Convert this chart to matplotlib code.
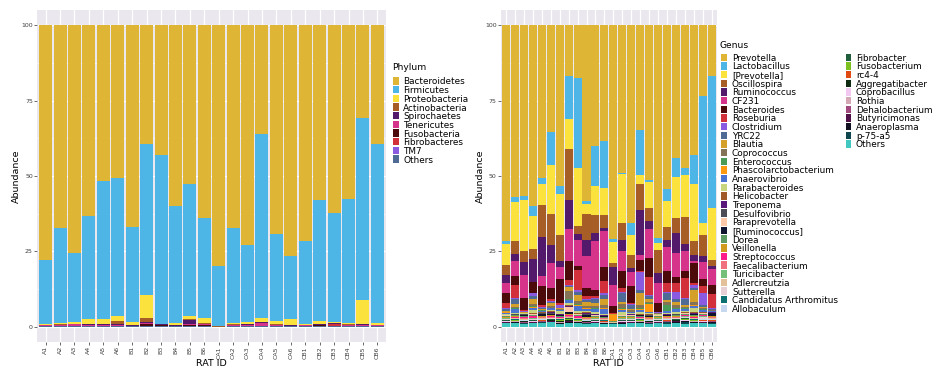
import matplotlib
matplotlib.use("Agg")
import matplotlib.pyplot as plt
from matplotlib.patches import Rectangle

rat_ids = ["A1", "A2", "A3", "A4", "A5", "A6", "B1", "B2", "B3", "B4", "B5", "B6",
           "CA1", "CA2", "CA3", "CA4", "CA5", "CA6", "CB1", "CB2", "CB3", "CB4", "CB5", "CB6"]

# ---- phylum level (percent) ----
bacteroidetes = [77.8, 67.3, 75.6, 63.1, 51.6, 50.7, 66.9, 39.4, 43.1, 59.8, 52.6, 64.0,
                 79.7, 67.1, 72.8, 36.1, 69.1, 76.5, 71.4, 58.0, 62.1, 57.6, 30.8, 39.4]
firmicutes = [21.1, 31.4, 22.7, 34.4, 45.9, 45.6, 31.5, 50.0, 55.8, 39.0, 43.9, 33.2,
              20.0, 31.7, 25.5, 60.8, 29.1, 21.0, 27.5, 39.9, 36.2, 41.0, 60.2, 59.2]
proteobacteria = [0.4, 0.5, 0.7, 1.5, 1.5, 1.9, 1.0, 7.5, 0.2, 0.5, 0.8, 1.6,
                  0.1, 0.4, 0.8, 1.5, 1.0, 1.9, 0.4, 1.1, 0.4, 0.6, 8.0, 0.7]
actinobacteria = [0.1, 0.1, 0.1, 0.2, 0.2, 1.0, 0.1, 1.5, 0.1, 0.1, 0.3, 0.2,
                  0.1, 0.1, 0.1, 0.1, 0.2, 0.1, 0.1, 0.1, 0.1, 0.2, 0.1, 0.1]
spirochaetes = [0.1, 0.2, 0.1, 0.1, 0.2, 0.1, 0.1, 0.2, 0.2, 0.2, 1.6, 0.2,
                0.0, 0.2, 0.1, 0.1, 0.1, 0.1, 0.1, 0.2, 0.1, 0.1, 0.2, 0.1]
tenericutes = [0.2, 0.2, 0.4, 0.4, 0.2, 0.4, 0.1, 0.4, 0.1, 0.1, 0.2, 0.1,
               0.0, 0.1, 0.3, 1.0, 0.2, 0.1, 0.2, 0.2, 0.1, 0.2, 0.3, 0.2]
fusobacteria = [0.1, 0.1, 0.1, 0.1, 0.2, 0.1, 0.1, 0.7, 0.3, 0.1, 0.3, 0.5,
                0.0, 0.2, 0.1, 0.1, 0.1, 0.1, 0.1, 0.3, 0.2, 0.1, 0.2, 0.1]
fibrobacteres = [0.0, 0.0, 0.1, 0.0, 0.0, 0.0, 0.0, 0.1, 0.0, 0.0, 0.0, 0.0,
                 0.0, 0.0, 0.1, 0.1, 0.0, 0.0, 0.0, 0.0, 0.6, 0.0, 0.0, 0.0]
tm7 = [0.0, 0.0, 0.0, 0.0, 0.0, 0.0, 0.0, 0.0, 0.0, 0.0, 0.1, 0.0,
       0.0, 0.0, 0.0, 0.0, 0.0, 0.0, 0.0, 0.0, 0.0, 0.0, 0.0, 0.0]
phylum_others = [0.2, 0.2, 0.2, 0.2, 0.2, 0.2, 0.2, 0.2, 0.2, 0.2, 0.2, 0.2,
                 0.1, 0.2, 0.2, 0.2, 0.2, 0.2, 0.2, 0.2, 0.2, 0.2, 0.2, 0.2]

phylum_names = ["Bacteroidetes", "Firmicutes", "Proteobacteria", "Actinobacteria", "Spirochaetes",
                "Tenericutes", "Fusobacteria", "Fibrobacteres", "TM7", "Others"]
phylum_values = [bacteroidetes, firmicutes, proteobacteria, actinobacteria, spirochaetes,
                 tenericutes, fusobacteria, fibrobacteres, tm7, phylum_others]
phylum_colors = ["#DEB535", "#4DB6E6", "#FCE23C", "#A65E26", "#531A6B",
                 "#D6338A", "#4D0A0A", "#D2303A", "#8A5AE0", "#4E6A95"]

# ---- genus level (percent) ----
prevotella = [71.7, 56.9, 56.5, 59.8, 50.6, 35.3, 53.4, 17.0, 17.5, 58.4, 40.1, 38.4,
              70.9, 48.9, 65.6, 34.8, 51.2, 70.5, 54.3, 44.0, 47.3, 42.9, 23.5, 17.0]
lactobacillus = [0.8, 1.7, 1.6, 3.5, 2.2, 11.2, 2.4, 14.0, 29.8, 0.8, 13.1, 15.5,
                 0.8, 0.6, 3.8, 15.0, 0.9, 1.7, 4.1, 6.3, 2.4, 9.9, 42.1, 43.6]
prevotella_br = [7.1, 13.1, 16.9, 10.8, 6.7, 16.0, 13.9, 10.2, 19.4, 3.3, 9.6, 8.9,
                 6.9, 16.1, 6.9, 2.7, 8.5, 2.2, 8.5, 13.7, 14.0, 18.9, 4.1, 17.1]
oscillospira = [3.1, 4.1, 3.6, 3.3, 10.8, 10.5, 8.4, 16.6, 2.5, 8.6, 6.1, 4.4,
                1.6, 5.5, 4.2, 8.6, 4.4, 7.8, 4.2, 5.0, 8.8, 4.6, 6.9, 2.0]
ruminococcus = [2.8, 2.2, 4.1, 7.6, 12.8, 5.8, 1.9, 9.8, 1.9, 5.5, 2.8, 1.1,
                5.9, 3.9, 1.4, 15.0, 2.6, 3.4, 2.5, 6.6, 2.3, 2.0, 1.9, 1.1]
cf231 = [3.3, 5.1, 7.8, 0.2, 3.5, 8.4, 4.2, 10.5, 8.6, 10.6, 16.0, 11.7,
         6.9, 6.6, 4.7, 1.6, 9.6, 6.6, 8.0, 7.8, 6.8, 0.5, 5.7, 5.2]
bacteroides = [3.3, 3.0, 3.9, 3.4, 6.1, 3.6, 7.9, 6.3, 1.4, 2.7, 2.0, 4.9,
               2.2, 5.6, 5.5, 3.7, 6.1, 2.7, 3.9, 2.2, 2.2, 6.7, 2.4, 3.0]
roseburia = [1.7, 4.4, 0.4, 0.3, 0.8, 0.6, 0.5, 1.6, 6.6, 0.7, 0.6, 3.9,
             0.3, 1.1, 0.3, 0.3, 6.1, 0.3, 2.8, 2.8, 6.7, 0.5, 2.2, 4.8]
clostridium = [0.2, 0.3, 0.1, 0.8, 0.2, 0.3, 1.0, 0.3, 0.6, 0.4, 0.5, 0.6,
               0.0, 0.3, 0.2, 6.1, 0.4, 0.1, 0.4, 2.5, 0.4, 1.0, 4.0, 0.2]
yrc22 = [0.6, 1.5, 0.2, 1.0, 0.3, 0.5, 0.2, 0.4, 1.2, 0.8, 1.2, 1.3,
         0.1, 3.0, 1.5, 0.8, 0.8, 0.1, 2.5, 1.0, 2.0, 0.8, 0.5, 0.3]
blautia = [0.3, 1.0, 0.2, 1.6, 0.3, 0.8, 0.3, 1.5, 2.0, 1.2, 1.0, 2.0,
           0.2, 0.8, 0.4, 4.0, 1.0, 0.1, 0.6, 1.0, 0.5, 4.0, 0.5, 0.2]
coprococcus = [0.2, 0.5, 0.1, 0.8, 0.2, 0.6, 0.2, 2.5, 1.0, 0.7, 0.8, 0.9,
               0.0, 1.5, 0.4, 1.0, 0.6, 0.1, 0.8, 0.8, 0.5, 0.8, 0.3, 0.1]
enterococcus = [0.1, 0.2, 0.0, 0.3, 0.1, 0.2, 0.1, 0.3, 0.3, 0.2, 0.2, 0.3,
                0.0, 0.3, 0.2, 0.5, 0.2, 0.1, 2.0, 0.3, 0.2, 0.3, 0.2, 0.1]
phascolarctobacterium = [0.1, 0.1, 0.0, 0.2, 0.1, 0.1, 0.1, 0.2, 0.2, 0.1, 0.2, 0.2,
                         2.0, 0.2, 0.1, 0.3, 2.5, 0.0, 0.2, 0.2, 0.1, 0.2, 0.1, 0.1]
anaerovibrio = [0.5, 1.2, 0.1, 0.9, 0.2, 0.5, 0.2, 0.8, 1.8, 0.8, 1.0, 1.5,
                0.0, 0.8, 0.3, 0.8, 0.5, 0.1, 0.5, 0.8, 0.6, 0.6, 0.5, 0.2]
parabacteroides = [0.1, 0.3, 0.1, 1.0, 0.1, 0.4, 0.9, 0.9, 0.7, 0.4, 0.5, 0.5,
                   0.0, 0.7, 0.2, 0.6, 0.4, 0.1, 0.4, 0.6, 0.4, 1.5, 0.3, 0.1]
helicobacter = [0.1, 0.1, 0.1, 0.1, 0.3, 0.4, 0.1, 0.3, 0.1, 0.1, 0.1, 0.1,
                0.1, 0.1, 0.1, 0.1, 0.3, 0.1, 0.1, 0.1, 0.1, 0.3, 0.1, 0.1]
treponema = [0.1, 0.1, 0.1, 0.1, 0.1, 0.1, 0.3, 0.1, 0.1, 0.3, 0.1, 0.1,
             0.0, 0.1, 0.1, 0.1, 0.1, 0.1, 0.1, 0.1, 0.1, 0.1, 0.1, 0.1]
desulfovibrio = [0.1, 0.1, 0.1, 0.1, 0.3, 0.3, 0.1, 0.1, 0.1, 0.3, 0.3, 0.1,
                 0.1, 0.1, 0.3, 0.1, 0.1, 0.1, 0.1, 0.1, 0.1, 0.1, 0.1, 0.1]
paraprevotella = [0.1, 0.1, 0.3, 0.1, 0.1, 0.1, 0.1, 1.5, 0.1, 0.1, 0.1, 0.1,
                  0.0, 0.1, 0.1, 0.1, 0.1, 0.1, 0.1, 0.1, 0.1, 0.1, 0.1, 0.1]
ruminococcus_br = [0.2, 0.2, 0.2, 0.2, 0.5, 0.2, 0.2, 0.7, 0.2, 0.6, 0.2, 0.2,
                   0.1, 0.2, 0.2, 0.2, 0.2, 0.2, 0.2, 0.2, 0.2, 0.4, 0.2, 0.8]
dorea = [0.2, 0.2, 0.2, 0.2, 0.2, 0.2, 0.2, 0.2, 0.2, 0.2, 0.2, 0.2,
         0.1, 0.2, 0.2, 0.2, 0.2, 0.2, 0.2, 0.2, 0.2, 0.2, 0.2, 0.2]
veillonella = [0.2, 0.4, 0.2, 0.2, 0.2, 0.2, 0.2, 0.2, 0.2, 0.2, 0.2, 0.2,
               0.1, 0.2, 0.2, 0.2, 0.2, 0.2, 0.2, 0.2, 0.2, 0.2, 0.2, 0.2]
streptococcus = [0.1, 0.1, 0.1, 0.5, 0.1, 0.4, 0.1, 0.4, 0.4, 0.1, 0.1, 0.1,
                 0.0, 0.1, 0.1, 0.1, 0.1, 0.1, 0.1, 0.1, 0.1, 0.3, 0.1, 0.1]
faecalibacterium = [0.2, 0.2, 0.4, 0.2, 0.2, 0.2, 0.2, 0.2, 0.2, 0.2, 0.2, 0.2,
                    0.1, 0.2, 0.2, 0.2, 0.2, 0.2, 0.2, 0.2, 0.2, 0.2, 0.2, 0.2]
turicibacter = [0.1, 0.1, 0.1, 0.1, 0.1, 0.1, 0.1, 0.1, 0.1, 0.1, 0.1, 0.1,
                0.0, 0.1, 0.1, 0.1, 0.1, 0.1, 0.1, 0.1, 0.1, 0.1, 0.1, 0.1]
adlercreutzia = [0.2, 0.2, 0.2, 0.2, 0.2, 0.2, 0.2, 0.2, 0.2, 0.2, 0.2, 0.2,
                 0.1, 0.2, 0.2, 0.2, 0.2, 0.2, 0.2, 0.2, 0.2, 0.2, 0.2, 0.2]
sutterella = [0.1, 0.1, 0.1, 0.1, 0.1, 0.1, 0.1, 0.1, 0.1, 0.1, 0.1, 0.1,
              0.0, 0.1, 0.1, 0.1, 0.1, 0.1, 0.1, 0.1, 0.1, 0.1, 0.6, 0.1]
candidatus_arthromitus = [0.1, 0.1, 0.1, 0.1, 0.1, 0.1, 0.1, 0.1, 0.1, 0.1, 0.1, 0.1,
                          0.0, 0.1, 0.1, 0.1, 0.1, 0.1, 0.1, 0.1, 0.1, 0.1, 0.1, 0.1]
allobaculum = [0.1, 0.1, 0.1, 0.1, 0.1, 0.1, 0.1, 0.1, 0.1, 0.1, 0.1, 0.1,
               0.0, 0.1, 0.1, 0.1, 0.1, 0.1, 0.1, 0.1, 0.1, 0.1, 0.1, 0.1]
fibrobacter = [0.1, 0.1, 0.1, 0.1, 0.1, 0.1, 0.1, 0.1, 0.1, 0.1, 0.1, 0.1,
               0.0, 0.1, 0.1, 0.1, 0.1, 0.1, 0.1, 0.1, 0.4, 0.1, 0.1, 0.1]
fusobacterium = [0.1, 0.1, 0.1, 0.1, 0.1, 0.1, 0.1, 0.4, 0.1, 0.1, 0.1, 0.1,
                 0.0, 0.1, 0.1, 0.1, 0.1, 0.1, 0.1, 0.1, 0.1, 0.1, 0.1, 0.1]
rc4_4 = [0.1, 0.1, 0.1, 0.1, 0.1, 0.1, 0.1, 0.1, 0.1, 0.1, 0.1, 0.1,
         0.0, 0.1, 0.1, 0.1, 0.1, 0.1, 0.1, 0.1, 0.1, 0.1, 0.1, 0.1]
aggregatibacter = [0.1, 0.1, 0.1, 0.1, 0.1, 0.1, 0.4, 0.1, 0.1, 0.1, 0.1, 0.1,
                   0.0, 0.1, 0.1, 0.1, 0.1, 0.1, 0.1, 0.1, 0.1, 0.1, 0.1, 0.1]
coprobacillus = [0.1, 0.1, 0.1, 0.1, 0.1, 0.1, 0.1, 0.1, 0.1, 0.1, 0.1, 0.1,
                 0.0, 0.1, 0.1, 0.1, 0.1, 0.1, 0.1, 0.1, 0.1, 0.1, 0.3, 0.1]
rothia = [0.1, 0.1, 0.1, 0.1, 0.1, 0.1, 0.1, 0.1, 0.1, 0.1, 0.1, 0.1,
          0.1, 0.1, 0.1, 0.1, 0.1, 0.1, 0.1, 0.1, 0.1, 0.1, 0.1, 0.1]
dehalobacterium = [0.1, 0.1, 0.1, 0.1, 0.1, 0.1, 0.1, 0.1, 0.1, 0.1, 0.1, 0.1,
                   0.0, 0.1, 0.1, 0.1, 0.1, 0.1, 0.1, 0.1, 0.1, 0.1, 0.1, 0.1]
butyricimonas = [0.1, 0.1, 0.1, 0.1, 0.1, 0.1, 0.1, 0.1, 0.1, 0.1, 0.1, 0.1,
                 0.0, 0.3, 0.1, 0.1, 0.1, 0.1, 0.1, 0.1, 0.1, 0.1, 0.1, 0.1]
anaeroplasma = [0.1, 0.1, 0.1, 0.1, 0.1, 0.1, 0.1, 0.4, 0.1, 0.1, 0.1, 0.1,
                0.1, 0.1, 0.1, 0.1, 0.1, 0.1, 0.1, 0.4, 0.1, 0.1, 0.1, 0.4]
p_75_a5 = [0.1, 0.1, 0.1, 0.1, 0.1, 0.1, 0.1, 0.1, 0.1, 0.1, 0.1, 0.1,
           0.1, 0.1, 0.1, 0.1, 0.1, 0.1, 0.5, 0.1, 0.6, 0.1, 0.1, 0.1]
genus_others = [1.2, 1.3, 1.1, 1.2, 1.4, 1.5, 1.0, 1.2, 1.3, 1.1, 1.2, 1.0,
                1.1, 1.0, 1.2, 1.3, 1.1, 1.2, 1.0, 1.2, 1.1, 1.3, 1.2, 1.1]

genus_names = ["Prevotella", "Lactobacillus", "[Prevotella]", "Oscillospira", "Ruminococcus",
               "CF231", "Bacteroides", "Roseburia", "Clostridium", "YRC22", "Blautia",
               "Coprococcus", "Enterococcus", "Phascolarctobacterium", "Anaerovibrio",
               "Parabacteroides", "Helicobacter", "Treponema", "Desulfovibrio", "Paraprevotella",
               "[Ruminococcus]", "Dorea", "Veillonella", "Streptococcus", "Faecalibacterium",
               "Turicibacter", "Adlercreutzia", "Sutterella", "Candidatus Arthromitus",
               "Allobaculum", "Fibrobacter", "Fusobacterium", "rc4-4", "Aggregatibacter",
               "Coprobacillus", "Rothia", "Dehalobacterium", "Butyricimonas", "Anaeroplasma",
               "p-75-a5", "Others"]
genus_values = [prevotella, lactobacillus, prevotella_br, oscillospira, ruminococcus, cf231,
                bacteroides, roseburia, clostridium, yrc22, blautia, coprococcus, enterococcus,
                phascolarctobacterium, anaerovibrio, parabacteroides, helicobacter, treponema,
                desulfovibrio, paraprevotella, ruminococcus_br, dorea, veillonella, streptococcus,
                faecalibacterium, turicibacter, adlercreutzia, sutterella, candidatus_arthromitus,
                allobaculum, fibrobacter, fusobacterium, rc4_4, aggregatibacter, coprobacillus,
                rothia, dehalobacterium, butyricimonas, anaeroplasma, p_75_a5, genus_others]
genus_colors = ["#DEB535", "#4DB6E6", "#FCE23C", "#A65E26", "#531A6B", "#D6338A", "#4D0A0A",
                "#D2303A", "#8A5AE0", "#4E6A95", "#D4A02A", "#857358", "#4A9A58", "#FF9A10",
                "#4A72D0", "#C8D47E", "#A05A28", "#5A1878", "#4C4C56", "#FFC8A8", "#10142E",
                "#5E9A64", "#D09A1E", "#FF1A8C", "#F07080", "#74C07A", "#E2C09A", "#E6D0D6",
                "#0A7070", "#C6D8F0", "#1E5E3C", "#7CC020", "#E04A10", "#0E2A10", "#F2C8F0",
                "#D4A8B4", "#A04A80", "#501048", "#101020", "#0E4650", "#40C8C0"]

W, H = 934, 367
fig = plt.figure(figsize=(W / 100, H / 100), dpi=100)


def px_box(x0, y0, x1, y1):
    return [x0 / W, 1 - y1 / H, (x1 - x0) / W, (y1 - y0) / H]


def stacked(ax, values, colors):
    x = list(range(len(rat_ids)))
    bottom = [0.0] * len(rat_ids)
    # first level sits on top, as in ggplot
    for vals, col in reversed(list(zip(values, colors))):
        ax.bar(x, vals, bottom=bottom, width=0.9, color=col, linewidth=0)
        bottom = [b + v for b, v in zip(bottom, vals)]


def style(ax, ylab_x):
    ax.set_facecolor("#EAE8EE")
    ax.set_xlim(-0.6, 23.6)
    ax.set_ylim(-5, 105)
    for s in ax.spines.values():
        s.set_visible(False)
    ax.set_yticks([0, 25, 50, 75, 100])
    ax.set_yticks([12.5, 37.5, 62.5, 87.5], minor=True)
    ax.set_xticks(range(len(rat_ids)))
    ax.set_xticklabels(rat_ids, rotation=90)
    ax.grid(which="major", color="white", linewidth=0.9)
    ax.grid(which="minor", axis="y", color="white", linewidth=0.4)
    ax.set_axisbelow(True)
    ax.tick_params(which="major", length=2, width=0.5, color="#333333",
                   labelsize=4.5, labelcolor="#3F3F3F", pad=1)
    ax.tick_params(which="minor", length=0)
    pos = ax.get_position()
    cx = (pos.x0 + pos.x1) / 2
    fig.text(cx, 1 - 366 / H, "RAT ID", fontsize=6.8, ha="center", va="baseline")
    fig.text(ylab_x / W, 1 - 176 / H, "Abundance", fontsize=6.8, rotation=90,
             ha="center", va="center")


def legend(title, tx, ty, columns, step=8.66):
    fig.text(tx / W, 1 - ty / H, title, fontsize=6.6, ha="left", va="center")
    for key_x, text_x, y0, names, colors in columns:
        for k, (name, col) in enumerate(zip(names, colors)):
            y = y0 + step * k
            fig.patches.append(Rectangle((key_x / W, 1 - (y + 3.7) / H), 5.6 / W, 7.4 / H,
                                         transform=fig.transFigure, color=col, linewidth=0))
            fig.text(text_x / W, 1 - y / H, name, fontsize=6.4, ha="left",
                     va="center_baseline")


ax1 = fig.add_axes(px_box(37, 10, 386, 342))
stacked(ax1, phylum_values, phylum_colors)
style(ax1, 16)

ax2 = fig.add_axes(px_box(500.7, 10, 717, 342))
stacked(ax2, genus_values, genus_colors)
style(ax2, 480)

legend("Phylum", 392, 68, [(393, 403, 81, phylum_names, phylum_colors)], step=8.68)
legend("Genus", 720, 45, [(721, 732, 57.3, genus_names[:30], genus_colors[:30]),
                          (845.5, 856, 57.3, genus_names[30:], genus_colors[30:])])

fig.savefig("out.png", dpi=100)
